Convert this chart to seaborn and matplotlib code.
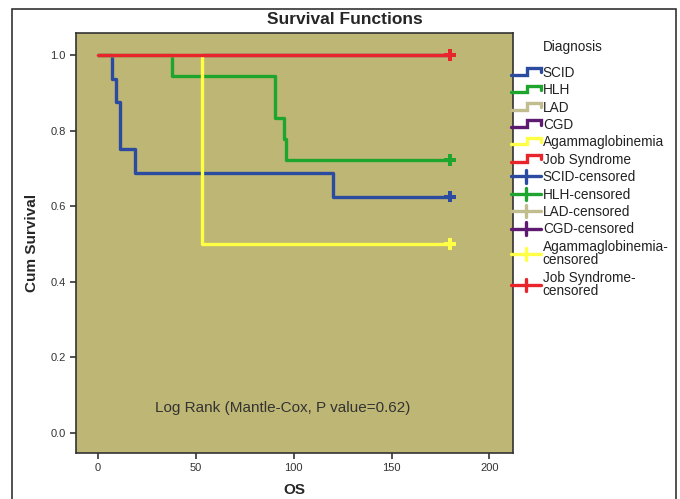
import matplotlib
matplotlib.use("Agg")
import matplotlib.pyplot as plt
import numpy as np
import pandas as pd
import seaborn as sns
from matplotlib.legend_handler import HandlerBase
from matplotlib.lines import Line2D
from matplotlib.patches import Rectangle

# Kaplan-Meier step data
groups = ["SCID", "HLH", "LAD", "CGD", "Agammaglobinemia", "Job Syndrome"]
colors = ["#2B4BA0", "#1EA52E", "#C2BD8E", "#5E1A70", "#FFFF45", "#E8252B"]

scid_t = [0, 7.6, 9.5, 11.2, 19.3, 120, 180]
scid_s = [1.0, 0.9375, 0.875, 0.75, 0.6875, 0.625, 0.625]
hlh_t = [0, 38, 90.6, 95.2, 96.2, 180]
hlh_s = [1.0, 0.9444, 0.8333, 0.7778, 0.7222, 0.7222]
lad_t = [0, 180]
lad_s = [1.0, 1.0]
cgd_t = [0, 180]
cgd_s = [1.0, 1.0]
agam_t = [0, 53.3, 180]
agam_s = [1.0, 0.5, 0.5]
job_t = [0, 180]
job_s = [1.0, 1.0]

times = [scid_t, hlh_t, lad_t, cgd_t, agam_t, job_t]
survs = [scid_s, hlh_s, lad_s, cgd_s, agam_s, job_s]

pval_text = "Log Rank (Mantle-Cox, P value=0.62)"


class StepHandler(HandlerBase):
    def create_artists(self, legend, orig_handle, xdescent, ydescent,
                       width, height, fontsize, trans):
        x0, w, h = -xdescent, width, height
        xs = [x0, x0 + 0.55 * w, x0 + 0.55 * w, x0 + w, x0 + w]
        ys = [0.2 * h, 0.2 * h, 0.9 * h, 0.9 * h, 0.45 * h]
        line = Line2D(xs, ys, color=orig_handle.get_color(), lw=2.4,
                      solid_joinstyle="miter", transform=trans)
        return [line]


class CensorHandler(HandlerBase):
    def create_artists(self, legend, orig_handle, xdescent, ydescent,
                       width, height, fontsize, trans):
        x0, w, h = -xdescent, width, height
        c = orig_handle.get_color()
        hline = Line2D([x0, x0 + w], [0.5 * h, 0.5 * h], color=c, lw=2.4,
                       transform=trans)
        vline = Line2D([x0 + 0.5 * w] * 2, [-0.15 * h, 1.15 * h], color=c,
                       lw=2.4, transform=trans)
        return [hline, vline]


def main():
    sns.set_style("white")
    plt.rcParams["font.family"] = ["Liberation Sans", "DejaVu Sans"]

    rows = []
    for g, ts, ss in zip(groups, times, survs):
        for t, s in zip(ts, ss):
            rows.append({"Diagnosis": g, "OS": t, "Cum Survival": s})
    df = pd.DataFrame(rows)
    ends = df.groupby("Diagnosis", sort=False).tail(1)

    fig = plt.figure(figsize=(6.8, 4.99), dpi=100)
    ax = fig.add_axes([0.1118, 0.0922, 0.6426, 0.8417])
    ax.set_facecolor("#BEB674")

    palette = dict(zip(groups, colors))
    sns.lineplot(data=df, x="OS", y="Cum Survival", hue="Diagnosis",
                 hue_order=groups, palette=palette, estimator=None,
                 sort=False, drawstyle="steps-post", lw=2.4, legend=False,
                 ax=ax)
    sns.scatterplot(data=ends, x="OS", y="Cum Survival", hue="Diagnosis",
                    hue_order=groups, palette=palette, marker="P", s=70,
                    linewidth=0, legend=False, ax=ax, zorder=3)

    ax.set_xlim(-11, 212)
    ax.set_ylim(-0.053, 1.058)
    ax.set_xticks([0, 50, 100, 150, 200])
    ax.set_yticks([0.0, 0.2, 0.4, 0.6, 0.8, 1.0])
    ax.set_yticklabels(["0.0", "0.2", "0.4", "0.6", "0.8", "1.0"])
    ax.tick_params(axis="both", direction="out", length=4, width=1.2,
                   labelsize=8, labelcolor="#333333", color="#333333",
                   left=True, bottom=True)
    for sp in ax.spines.values():
        sp.set_color("#333333")
        sp.set_linewidth(1.2)

    ax.set_xlabel("OS", fontsize=11, fontweight="bold", labelpad=7)
    ax.set_ylabel("Cum Survival", fontsize=11, fontweight="bold",
                  labelpad=8)

    ax.text(94.5, 0.065, pval_text, ha="center", va="center", fontsize=11,
            color="#333333")

    fig.text(345 / 680, 1 - 20 / 499, "Survival Functions", ha="center",
             va="center", fontsize=12.5, fontweight="bold")

    # legend
    handles, labels = [], []
    for g, c in zip(groups, colors):
        handles.append(Line2D([], [], color=c))
        labels.append(g)
    censor_handles = []
    for g, c in zip(groups, colors):
        h = Line2D([], [], color=c, marker="+")
        censor_handles.append(h)
        handles.append(h)
        if g in ("Agammaglobinemia", "Job Syndrome"):
            labels.append(g + "-\ncensored")
        else:
            labels.append(g + "-censored")
    hmap = {h: StepHandler() for h in handles[:6]}
    hmap.update({h: CensorHandler() for h in censor_handles})
    fig.text(543 / 680, 1 - 47 / 499, "Diagnosis", ha="left", va="center",
             fontsize=9.8, color="#222222")
    leg = ax.legend(handles, labels, handler_map=hmap, loc="upper left",
                    bbox_to_anchor=(0.995, 0.922), frameon=False,
                    fontsize=9.8, handlelength=2.2, handletextpad=0.15,
                    labelspacing=0.25, borderaxespad=0, borderpad=0,
                    labelcolor="#222222")
    for t in leg.get_texts():
        t.set_linespacing(0.95)

    fig.patches.append(Rectangle((12 / 680, -0.05), 664 / 680,
                                 1 - 9 / 499 + 0.05, fill=False,
                                 edgecolor="#333333", lw=1.2,
                                 transform=fig.transFigure))

    fig.savefig("out.png", dpi=100)
    plt.close(fig)


if __name__ == "__main__":
    main()
